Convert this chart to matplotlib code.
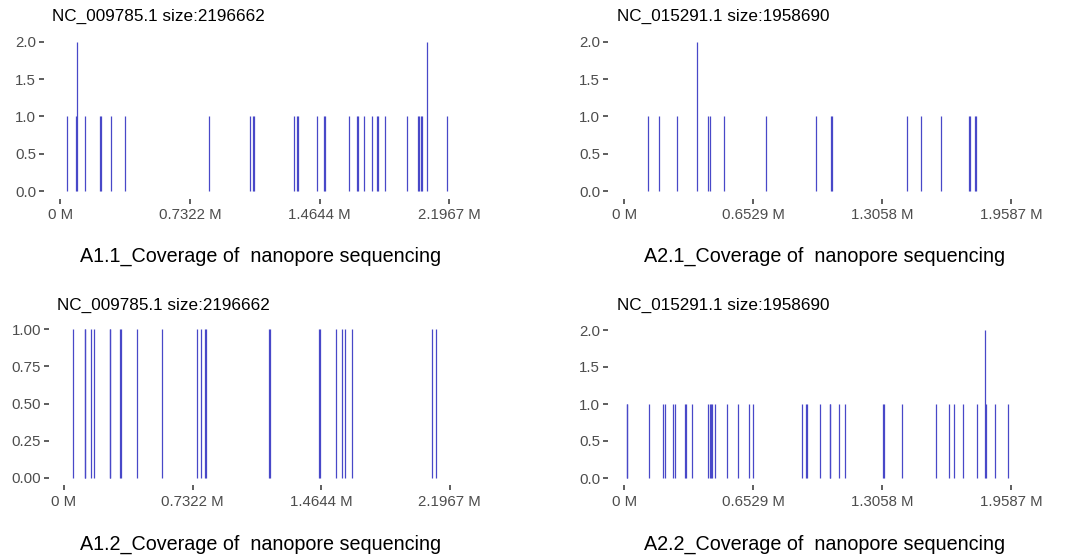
import matplotlib
matplotlib.use("Agg")
import matplotlib.pyplot as plt

plt.rcParams['font.family'] = ['Liberation Sans', 'DejaVu Sans']

# ---------------- data ----------------
size_a1 = 2196662
size_a2 = 1958690

titles = ["NC_009785.1 size:2196662", "NC_015291.1 size:1958690",
          "NC_009785.1 size:2196662", "NC_015291.1 size:1958690"]
captions = ["A1.1_Coverage of  nanopore sequencing", "A2.1_Coverage of  nanopore sequencing",
            "A1.2_Coverage of  nanopore sequencing", "A2.2_Coverage of  nanopore sequencing"]

# positions in Mb, coverage depth
a11_pos = [0.0395, 0.0903, 0.0960, 0.1374, 0.2259, 0.2315, 0.2842, 0.3633, 0.8376,
           1.0729, 1.0861, 1.0936, 1.3195, 1.3345, 1.3402, 1.4475, 1.4889, 1.4945,
           1.6319, 1.6752, 1.6790, 1.7129, 1.7618, 1.7882, 1.7938, 1.8352, 1.9576,
           2.0178, 2.0272, 2.0347, 2.0422, 2.0724, 2.1853]
a11_cov = [1, 1, 2, 1, 1, 1, 1, 1, 1,
           1, 1, 1, 1, 1, 1, 1, 1, 1,
           1, 1, 1, 1, 1, 1, 1, 1, 1,
           1, 1, 1, 1, 2, 1]

a21_pos = [0.1181, 0.1755, 0.2649, 0.3678, 0.4218, 0.4319, 0.5028, 0.7187, 0.9701,
           1.0460, 1.0494, 1.4290, 1.5015, 1.6045, 1.7445, 1.7496, 1.7732, 1.7782]
a21_cov = [1, 1, 1, 2, 1, 1, 1, 1, 1,
           1, 1, 1, 1, 1, 1, 1, 1, 1]

a12_pos = [0.0513, 0.1177, 0.1215, 0.1557, 0.1709, 0.2601, 0.2639, 0.3189, 0.3246,
           0.4138, 0.5600, 0.7556, 0.7802, 0.8030, 0.8106, 1.1694, 1.1732, 1.4542,
           1.4580, 1.5491, 1.5833, 1.6004, 1.6402, 2.0958, 2.1167]
a12_cov = [1] * 25

a22_pos = [0.0118, 0.0152, 0.1249, 0.1942, 0.2060, 0.2482, 0.2549, 0.3073, 0.3124,
           0.3411, 0.4238, 0.4322, 0.4390, 0.4440, 0.4575, 0.5200, 0.5757, 0.6331,
           0.6534, 0.8999, 0.9202, 0.9252, 0.9894, 1.0400, 1.0434, 1.0873, 1.1160,
           1.3102, 1.3136, 1.4047, 1.5803, 1.6428, 1.6698, 1.7154, 1.7863, 1.8285,
           1.8319, 1.8775, 1.9433]
a22_cov = [1, 1, 1, 1, 1, 1, 1, 1, 1,
           1, 1, 1, 1, 1, 1, 1, 1, 1,
           1, 1, 1, 1, 1, 1, 1, 1, 1,
           1, 1, 1, 1, 1, 1, 1, 1, 2,
           1, 1, 1]

xtick_labels_a1 = ["0 M", "0.7322 M", "1.4644 M", "2.1967 M"]
xtick_labels_a2 = ["0 M", "0.6529 M", "1.3058 M", "1.9587 M"]
ytick_vals_2 = [0.0, 0.5, 1.0, 1.5, 2.0]
ytick_labels_2 = ["0.0", "0.5", "1.0", "1.5", "2.0"]
ytick_vals_1 = [0.0, 0.25, 0.5, 0.75, 1.0]
ytick_labels_1 = ["0.00", "0.25", "0.50", "0.75", "1.00"]

# ---------------- layout ----------------
W, H = 1083, 556
fig = plt.figure(figsize=(W / 100, H / 100), dpi=100)
fig.patch.set_facecolor("white")

panels = [
    # pos, cov, size, xlabels, yvals, ylabels, ymax, left_px, zero_px, px_per_bp, bottom_px, top_px, title_x, title_y, cap_x, cap_y
    (a11_pos, a11_cov, size_a1, xtick_labels_a1, ytick_vals_2, ytick_labels_2, 2.0,
     44, 60.3, 389.0 / 2196662, 198.5, 34.2, 52, 21, 261, 262),
    (a21_pos, a21_cov, size_a2, xtick_labels_a2, ytick_vals_2, ytick_labels_2, 2.0,
     608, 624.3, 387.0 / 1958690, 198.5, 34.2, 617, 21, 825, 262),
    (a12_pos, a12_cov, size_a1, xtick_labels_a1, ytick_vals_1, ytick_labels_1, 1.0,
     49, 64.0, 385.7 / 2196662, 485.4, 321.9, 57, 310, 261, 550),
    (a22_pos, a22_cov, size_a2, xtick_labels_a2, ytick_vals_2, ytick_labels_2, 2.0,
     608, 624.3, 386.7 / 1958690, 485.4, 322.6, 617, 310, 825, 550),
]

for i, (pos, cov, size, xl, yv, yl, ymax, left_px, zero_px, ppb,
        bot_px, top_px, tx, ty, cx, cy) in enumerate(panels):
    xmin = -(zero_px - left_px) / ppb
    xmax = size * 1.05
    right_px = zero_px + xmax * ppb
    ax = fig.add_axes([left_px / W, 1 - bot_px / H,
                       (right_px - left_px) / W, (bot_px - top_px) / H])
    ax.vlines([p * 1e6 for p in pos], 0, cov, colors="#4848c8", linewidth=0.9)
    ax.set_xlim(xmin, xmax)
    ax.set_ylim(-0.05 * ymax, 1.05 * ymax)
    ax.set_xticks([0, size / 3, 2 * size / 3, size])
    ax.set_xticklabels(xl)
    ax.set_yticks(yv)
    ax.set_yticklabels(yl)
    for s in ax.spines.values():
        s.set_visible(False)
    ax.tick_params(axis="both", length=3.6, width=1.1, color="#333333",
                   labelcolor="#4d4d4d", labelsize=10.8)
    ax.tick_params(axis="x", pad=3.5)
    ax.tick_params(axis="y", pad=2.0)
    ax.set_facecolor("white")

    fig.text(tx / W, 1 - ty / H, titles[i], fontsize=12.3, color="black",
             ha="left", va="baseline")
    fig.text(cx / W, 1 - cy / H, captions[i], fontsize=14.2, color="black",
             ha="center", va="baseline")

fig.savefig("out.png", dpi=100, facecolor="white")
